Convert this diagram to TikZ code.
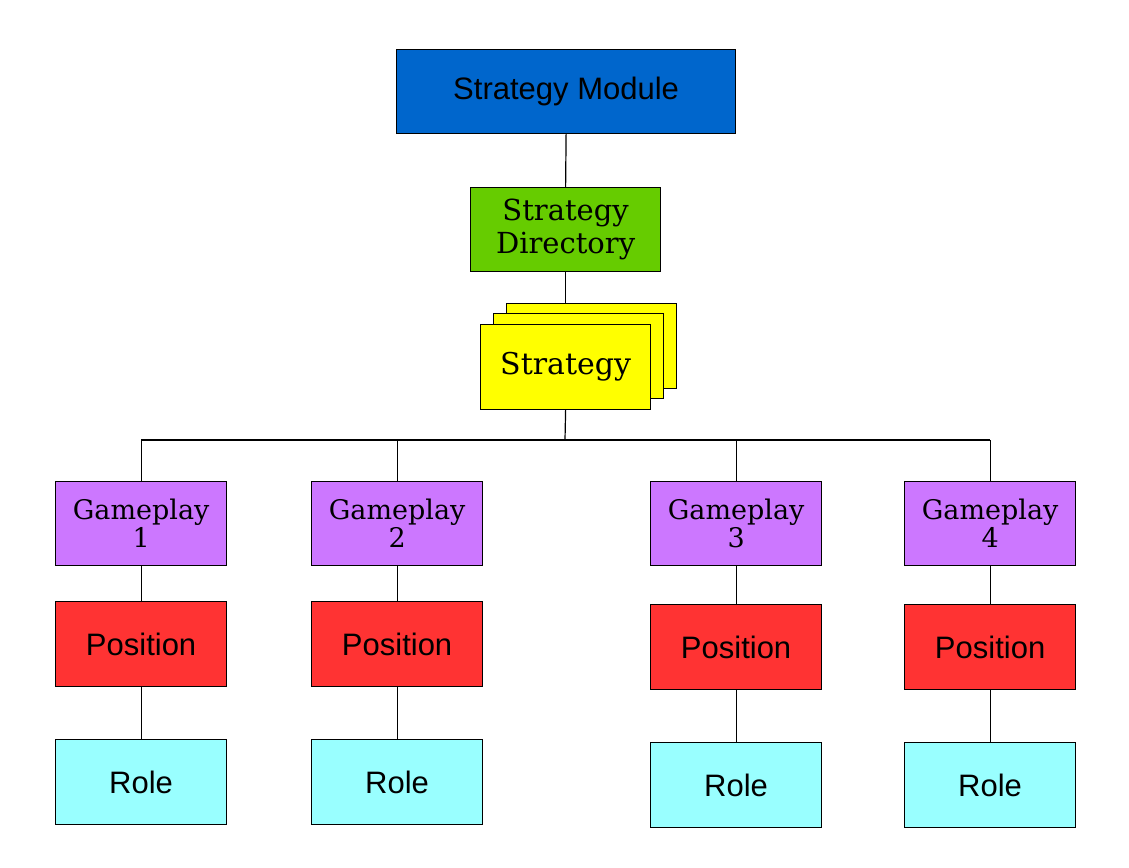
\documentclass[tikz,border=0pt]{standalone}
\usepackage{fontspec}
\setmainfont{Liberation Sans}
\newfontfamily\serifb{DejaVu Serif}
\begin{document}
\begin{tikzpicture}[x=1pt,y=-1pt,
  box/.style={draw=black,line width=1.2pt,anchor=north west,inner sep=0pt,align=center},
  ln/.style={line width=1.2pt}]
\useasboundingbox (0,0) rectangle (1129,867);
\definecolor{cblue}{HTML}{0066CC}\definecolor{cgreen}{HTML}{66CC00}
\definecolor{cyel}{HTML}{FFFF00}\definecolor{cvio}{HTML}{CC77FF}
\definecolor{cred}{HTML}{FF3333}\definecolor{ccyan}{HTML}{99FFFF}
\node[box,fill=cblue,minimum width=339pt,minimum height=84pt,font=\fontsize{31}{36}\selectfont] (sm) at (396,49) {Strategy Module};
\node[box,fill=cgreen,minimum width=190pt,minimum height=84pt,font=\serifb\fontsize{29}{33}\selectfont] (sd) at (470,187) {Strategy\\Directory};
\node[box,fill=cyel,minimum width=170pt,minimum height=85pt] (s3) at (506,303) {};
\node[box,fill=cyel,minimum width=170pt,minimum height=85pt] (s2) at (493,313) {};
\node[box,fill=cyel,minimum width=170pt,minimum height=85pt,font=\serifb\fontsize{30}{34}\selectfont] (st) at (480,324) {Strategy};
\draw[ln] (sm.south) -- (sd.north);
\draw[ln] (sd.south) -- (sd.south|-s3.north);
\coordinate (hub) at (565,440);
\draw[ln] (st.south) -- (hub);
\foreach \i/\x/\py/\ry in {1/55/601/739,2/311/601/739,3/650/604/742,4/904/604/742}{
  \node[box,fill=cvio,minimum width=171pt,minimum height=84pt,font=\serifb\fontsize{27}{28}\selectfont] (g\i) at (\x,481) {Gameplay\\\i};
  \node[box,fill=cred,minimum width=171pt,minimum height=85pt,font=\fontsize{31}{36}\selectfont] (p\i) at (\x,\py) {Position};
  \node[box,fill=ccyan,minimum width=171pt,minimum height=85pt,font=\fontsize{31}{36}\selectfont] (r\i) at (\x,\ry) {Role};
  \draw[ln] (g\i.north) -- (g\i.north|-hub);
  \draw[ln] (g\i.south) -- (p\i.north);
  \draw[ln] (p\i.south) -- (r\i.north);
}
\draw[ln] (g1.north|-hub) -- (g4.north|-hub);
\end{tikzpicture}
\end{document}
